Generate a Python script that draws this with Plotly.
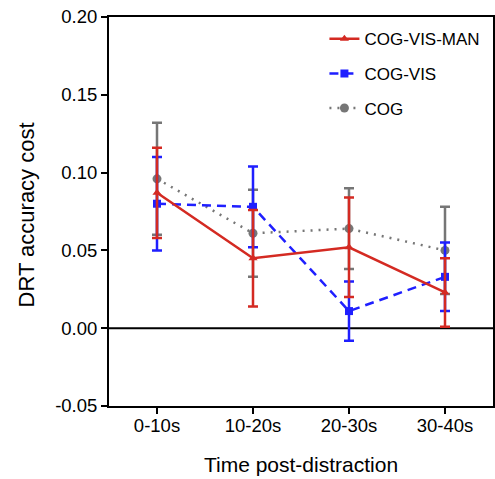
import plotly.graph_objects as go

categories = ["0-10s", "10-20s", "20-30s", "30-40s"]

cvm_mean = [0.087, 0.045, 0.052, 0.023]
cvm_err = [0.029, 0.031, 0.032, 0.022]

cv_mean = [0.080, 0.078, 0.011, 0.033]
cv_err = [0.030, 0.026, 0.019, 0.022]

cog_mean = [0.096, 0.061, 0.064, 0.050]
cog_err = [0.036, 0.028, 0.026, 0.028]

y_tickvals = [-0.05, 0.0, 0.05, 0.10, 0.15, 0.20]
y_ticktext = ["-0.05", "0.00", "0.05", "0.10", "0.15", "0.20"]

x_title = "Time post-distraction"
y_title = "DRT accuracy cost"

RED = "#d42a22"
BLUE = "#1f1fff"
GRAY = "#767676"

x_idx = list(range(len(categories)))

fig = go.Figure()

fig.add_trace(go.Scatter(
    x=x_idx, y=cog_mean, name="COG", mode="lines+markers",
    line=dict(color=GRAY, width=2.5, dash="2px,6px"),
    marker=dict(symbol="circle", size=9, color=GRAY),
    error_y=dict(type="data", array=cog_err, color=GRAY, thickness=2.5, width=5),
    legendgroup="g3", legendrank=3,
))
fig.add_trace(go.Scatter(
    x=x_idx, y=cv_mean, name="COG-VIS", mode="lines+markers",
    line=dict(color=BLUE, width=2.5, dash="9px,6px"),
    marker=dict(symbol="square", size=8, color=BLUE),
    error_y=dict(type="data", array=cv_err, color=BLUE, thickness=2.5, width=5),
    legendgroup="g2", legendrank=2,
))
fig.add_trace(go.Scatter(
    x=x_idx, y=cvm_mean, name="COG-VIS-MAN", mode="lines+markers",
    line=dict(color=RED, width=2.5),
    marker=dict(symbol="triangle-up", size=8, color=RED),
    error_y=dict(type="data", array=cvm_err, color=RED, thickness=2.5, width=5),
    legendgroup="g1", legendrank=1,
))

fig.add_hline(y=0, line=dict(color="black", width=2), layer="below")

fig.add_annotation(
    text=y_title, xref="paper", yref="paper", x=-0.216, y=0.49,
    xanchor="center", yanchor="middle", textangle=-90, showarrow=False,
    font=dict(size=22),
)

fig.update_layout(
    width=495, height=479,
    margin=dict(l=109, r=2, t=17, b=73, autoexpand=False),
    paper_bgcolor="white", plot_bgcolor="white",
    font=dict(family="Liberation Sans, Arial, sans-serif", size=18, color="black"),
    showlegend=True,
    legend=dict(
        x=0.561, y=0.989, xanchor="left", yanchor="top",
        traceorder="grouped", tracegroupgap=9.5,
        font=dict(size=17), bgcolor="rgba(0,0,0,0)",
    ),
    xaxis=dict(
        tickmode="array", tickvals=x_idx, ticktext=categories,
        range=[-0.5, len(categories) - 0.5],
        showline=True, linecolor="black", linewidth=2, mirror=True,
        ticks="outside", ticklen=6, tickwidth=2, tickcolor="black",
        showgrid=False, zeroline=False, tickfont=dict(size=18.5),
        ticklabelstandoff=-4, automargin=False,
        title=dict(text=x_title, font=dict(size=21), standoff=22),
    ),
    yaxis=dict(
        range=[-0.05, 0.20], tickmode="array", tickvals=y_tickvals, ticktext=y_ticktext,
        showline=True, linecolor="black", linewidth=2, mirror=True,
        ticks="outside", ticklen=6, tickwidth=2, tickcolor="black",
        showgrid=False, zeroline=False, tickfont=dict(size=18.5),
        automargin=False,
    ),
)

fig.write_html("out.html", config={"displayModeBar": False},
               post_script="document.body.style.margin='0';")
